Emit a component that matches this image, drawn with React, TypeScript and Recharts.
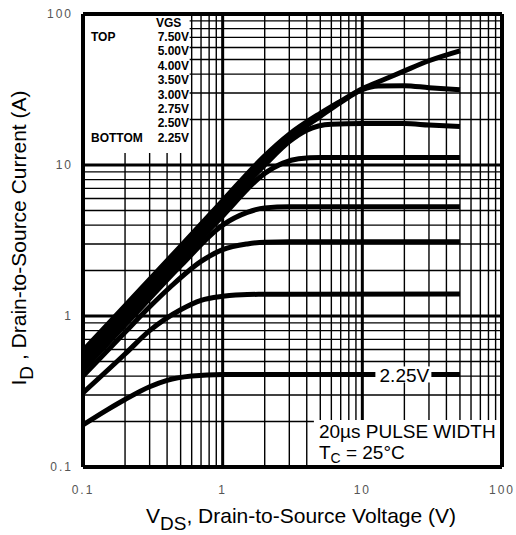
import { LineChart, Line, XAxis, YAxis, ReferenceLine, ReferenceArea, LabelList } from 'recharts';

// axis ticks (log decades)
const xTicks = [0.1, 1, 10, 100];
const yTicks = [0.1, 1, 10, 100];

// grid values
const minorGrid = [
    0.2, 0.3, 0.4, 0.5, 0.6, 0.7, 0.8, 0.9,
    2, 3, 4, 5, 6, 7, 8, 9,
    20, 30, 40, 50, 60, 70, 80, 90,
];
const majorGrid = [1, 10];
const frameGrid = [0.1, 100];

const legendValues = ['7.50V', '5.00V', '4.00V', '3.50V', '3.00V', '2.75V', '2.50V', '2.25V'];

// VDS (V) -> ID (A)
const vgs750 = [
    { v: 0.1, i: 0.59 }, { v: 0.2, i: 1.17 }, { v: 0.5, i: 2.9 }, { v: 1, i: 5.8 },
    { v: 2, i: 11.5 }, { v: 3, i: 16 }, { v: 5, i: 22 }, { v: 7, i: 26.5 },
    { v: 10, i: 32 }, { v: 15, i: 37.5 }, { v: 20, i: 42 }, { v: 30, i: 49 }, { v: 50, i: 57 },
];
const vgs500 = [
    { v: 0.1, i: 0.55 }, { v: 0.2, i: 1.1 }, { v: 0.5, i: 2.75 }, { v: 1, i: 5.4 },
    { v: 2, i: 10.8 }, { v: 3, i: 15 }, { v: 5, i: 21 }, { v: 7, i: 26 },
    { v: 10, i: 31.5 }, { v: 13, i: 33.3 }, { v: 20, i: 33.5 }, { v: 30, i: 32.5 }, { v: 50, i: 31.5 },
];
const vgs400 = [
    { v: 0.1, i: 0.51 }, { v: 0.2, i: 1.02 }, { v: 0.5, i: 2.55 }, { v: 1, i: 5.0 },
    { v: 2, i: 10 }, { v: 3, i: 14.3 }, { v: 4, i: 17 }, { v: 6, i: 18.6 },
    { v: 10, i: 18.8 }, { v: 20, i: 18.8 }, { v: 30, i: 18.4 }, { v: 50, i: 18 },
];
const vgs350 = [
    { v: 0.1, i: 0.47 }, { v: 0.2, i: 0.94 }, { v: 0.5, i: 2.35 }, { v: 1, i: 4.6 },
    { v: 2, i: 8.8 }, { v: 2.7, i: 10.3 }, { v: 3.5, i: 11 }, { v: 5, i: 11.2 },
    { v: 20, i: 11.2 }, { v: 50, i: 11.2 },
];
const vgs300 = [
    { v: 0.1, i: 0.44 }, { v: 0.2, i: 0.87 }, { v: 0.5, i: 2.15 }, { v: 1, i: 4.0 },
    { v: 1.5, i: 4.85 }, { v: 2, i: 5.2 }, { v: 3, i: 5.3 }, { v: 20, i: 5.3 }, { v: 50, i: 5.3 },
];
const vgs275 = [
    { v: 0.1, i: 0.4 }, { v: 0.2, i: 0.78 }, { v: 0.3, i: 1.15 }, { v: 0.42, i: 1.55 },
    { v: 0.7, i: 2.3 }, { v: 1, i: 2.75 }, { v: 1.5, i: 3.0 }, { v: 2, i: 3.08 },
    { v: 3, i: 3.1 }, { v: 50, i: 3.1 },
];
const vgs250 = [
    { v: 0.1, i: 0.31 }, { v: 0.2, i: 0.56 }, { v: 0.3, i: 0.8 }, { v: 0.5, i: 1.1 },
    { v: 0.7, i: 1.27 }, { v: 1, i: 1.35 }, { v: 1.5, i: 1.39 }, { v: 50, i: 1.4 },
];
const vgs225 = [
    { v: 0.1, i: 0.19 }, { v: 0.15, i: 0.24 }, { v: 0.2, i: 0.28 }, { v: 0.3, i: 0.34 },
    { v: 0.4, i: 0.375 }, { v: 0.6, i: 0.4 }, { v: 1, i: 0.41 }, { v: 20, i: 0.41, tag: '2.25V' },
    { v: 50, i: 0.41 },
];

const series = [vgs750, vgs500, vgs400, vgs350, vgs300, vgs275, vgs250];

const FONT = '"Liberation Sans", Arial, sans-serif';

// eslint-disable-next-line @typescript-eslint/no-explicit-any
const XTick = (props: any) => (
    <text x={props.x} y={props.y + 23} textAnchor="middle" dominantBaseline="central"
        fontFamily={FONT} fontSize={12} letterSpacing={2} fill="#555">
        {String(props.payload.value)}
    </text>
);

// eslint-disable-next-line @typescript-eslint/no-explicit-any
const YTick = (props: any) => (
    <text x={props.x - 10} y={props.y} textAnchor="end" dominantBaseline="central"
        fontFamily={FONT} fontSize={12} letterSpacing={2} fill="#555">
        {String(props.payload.value)}
    </text>
);

// eslint-disable-next-line @typescript-eslint/no-explicit-any
const InlineLabel = (props: any) => {
    if (!props.value) return null;
    return (
        <g>
            <rect x={props.x - 29} y={props.y - 8} width={56} height={16} fill="#fff" />
            <text x={props.x} y={props.y + 1} textAnchor="middle" dominantBaseline="central"
                fontFamily={FONT} fontSize={19} fill="#000">
                {props.value}
            </text>
        </g>
    );
};

// legend block drawn inside the white panel (top-left)
// eslint-disable-next-line @typescript-eslint/no-explicit-any
const LegendPanel = (props: any) => {
    const { x, y } = props.viewBox;
    return (
        <g fontFamily={FONT} fontSize={12} fontWeight="bold" fill="#000">
            <text x={x + 73} y={y + 13}>VGS</text>
            <text x={x + 8} y={y + 27}>TOP</text>
            <text x={x + 8} y={y + 128}>BOTTOM</text>
            {legendValues.map((t, k) => (
                <text key={t} x={x + 106} y={y + 27 + k * 14.4} textAnchor="end">{t}</text>
            ))}
        </g>
    );
};

// note drawn inside the white panel (bottom-right)
// eslint-disable-next-line @typescript-eslint/no-explicit-any
const NotePanel = (props: any) => {
    const { x, y } = props.viewBox;
    return (
        <g fontFamily={FONT} fontSize={19} fill="#000">
            <text x={x + 5} y={y + 18}>20µs PULSE WIDTH</text>
            <text x={x + 5} y={y + 39}>
                T<tspan fontSize={14} dy={4}>C</tspan><tspan dy={-4}> = 25°C</tspan>
            </text>
        </g>
    );
};

export default function App() {
    return (
        <div style={{ position: 'absolute', left: 0, top: 0, background: '#fff' }}>
            <LineChart width={516} height={535} margin={{ top: 14, right: 14, bottom: 0, left: 23 }}>
                <XAxis
                    dataKey="v"
                    type="number"
                    scale="log"
                    domain={[0.1, 100]}
                    allowDataOverflow
                    ticks={xTicks}
                    tick={XTick}
                    tickLine={false}
                    axisLine={false}
                    tickSize={0}
                    tickMargin={0}
                    height={68}
                />
                <YAxis
                    dataKey="i"
                    type="number"
                    scale="log"
                    domain={[0.1, 100]}
                    allowDataOverflow
                    ticks={yTicks}
                    tick={YTick}
                    tickLine={false}
                    axisLine={false}
                    tickSize={0}
                    tickMargin={0}
                    width={60}
                />

                {minorGrid.map((g) => (
                    <ReferenceLine key={'xm' + g} x={g} stroke="#000" strokeWidth={1.4} zIndex={-100} />
                ))}
                {minorGrid.map((g) => (
                    <ReferenceLine key={'ym' + g} y={g} stroke="#000" strokeWidth={1.4} zIndex={-100} />
                ))}
                {majorGrid.map((g) => (
                    <ReferenceLine key={'xM' + g} x={g} stroke="#000" strokeWidth={3} zIndex={-100} />
                ))}
                {majorGrid.map((g) => (
                    <ReferenceLine key={'yM' + g} y={g} stroke="#000" strokeWidth={3} zIndex={-100} />
                ))}

                {/* white panels behind the legend and the note */}
                <ReferenceArea x1={0.1} x2={0.58} y1={12} y2={100} fill="#fff" fillOpacity={1}
                    stroke="none" label={LegendPanel} zIndex={50} />
                <ReferenceArea x1={4.5} x2={100} y1={0.1} y2={0.205} fill="#fff" fillOpacity={1}
                    stroke="none" label={NotePanel} zIndex={50} />

                {frameGrid.map((g) => (
                    <ReferenceLine key={'xf' + g} x={g} stroke="#000" strokeWidth={4} zIndex={300} />
                ))}
                {frameGrid.map((g) => (
                    <ReferenceLine key={'yf' + g} y={g} stroke="#000" strokeWidth={4} zIndex={300} />
                ))}

                {series.map((s, idx) => (
                    <Line key={legendValues[idx]} data={s} dataKey="i" type="monotone" stroke="#000"
                        strokeWidth={5} dot={false} activeDot={false} isAnimationActive={false} />
                ))}
                <Line data={vgs225} dataKey="i" type="monotone" stroke="#000" strokeWidth={5}
                    dot={false} activeDot={false} isAnimationActive={false}>
                    <LabelList dataKey="tag" content={InlineLabel} />
                </Line>

                {/* axis titles */}
                <text x={301} y={523} textAnchor="middle" fontFamily={FONT} fontSize={21} fill="#000">
                    V<tspan fontSize={19} dy={7}>DS</tspan><tspan dy={-7}>, Drain-to-Source Voltage (V)</tspan>
                </text>
                <text transform="rotate(-90)" x={-238} y={26} textAnchor="middle" fontFamily={FONT} fontSize={21} fill="#000">
                    I<tspan fontSize={19} dy={7}>D</tspan><tspan dy={-7}> , Drain-to-Source Current (A)</tspan>
                </text>
            </LineChart>
        </div>
    );
}
